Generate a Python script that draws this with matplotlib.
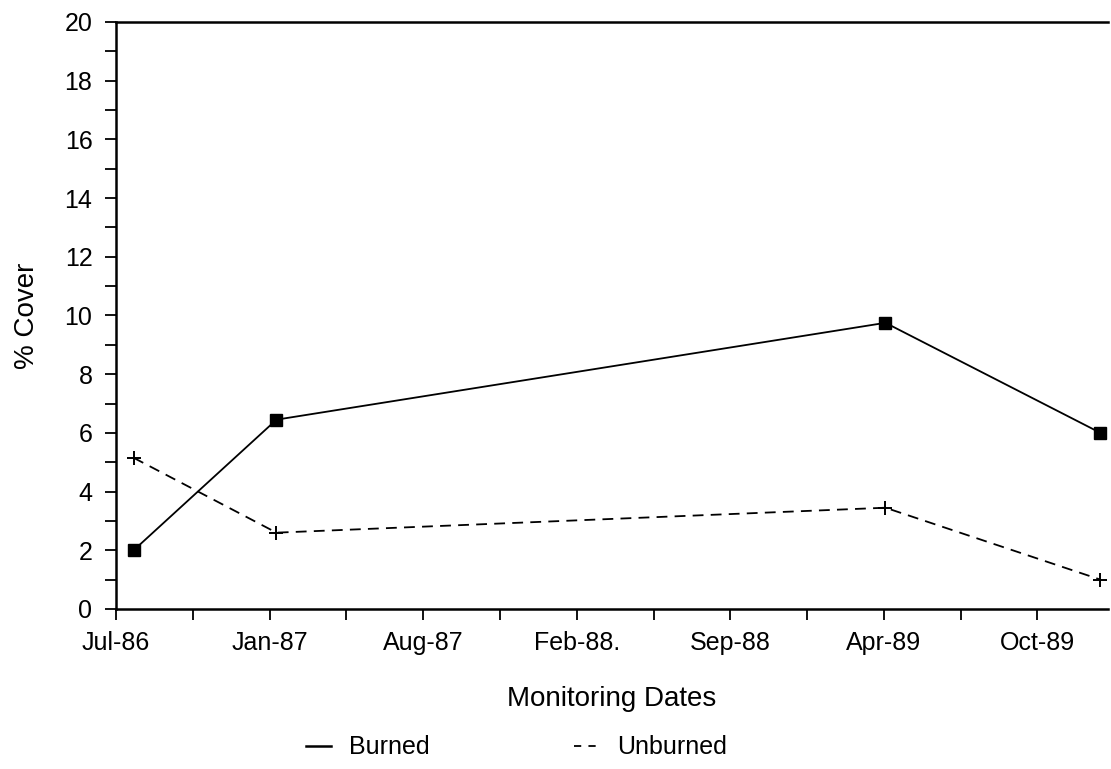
import datetime as dt
import matplotlib
matplotlib.use("Agg")
import matplotlib.pyplot as plt
import matplotlib.dates as mdates
from matplotlib.lines import Line2D

plt.rcParams['font.family'] = ['Liberation Sans', 'DejaVu Sans']

# monitoring dates and % cover
dates = [dt.date(1986, 7, 30), dt.date(1987, 2, 1), dt.date(1989, 4, 4), dt.date(1990, 1, 9)]
burned = [2.0, 6.45, 9.75, 6.0]
unburned = [5.15, 2.6, 3.45, 1.0]

tick_labels = ['Jul-86', 'Jan-87', 'Aug-87', 'Feb-88.', 'Sep-88', 'Apr-89', 'Oct-89']
axis_start = dt.date(1986, 7, 7)
tick_step = 200   # days between labelled ticks (Excel date axis)
axis_days = 1292

fig = plt.figure(figsize=(11.11, 7.69), dpi=100)
ax = fig.add_axes([0.1044, 0.2081, 0.893, 0.7633])

x = mdates.date2num(dates)
ax.plot(x, burned, '-', color='black', lw=1.3, marker='s', markersize=8)
ax.plot(x, unburned, '--', color='black', lw=1.3, dashes=(6, 4), marker='+',
        markersize=10, markeredgewidth=1.4)

x0 = mdates.date2num(axis_start)
ax.set_xlim(x0, x0 + axis_days)
ax.set_ylim(0, 20)

major = [x0 + tick_step * k for k in range(len(tick_labels))]
minor = [m + tick_step / 2 for m in major if m + tick_step / 2 < x0 + axis_days]
ax.set_xticks(major)
ax.set_xticklabels(tick_labels)
ax.set_xticks(minor, minor=True)
ax.set_yticks(range(0, 21, 2))
ax.set_yticks(range(1, 20, 2), minor=True)

ax.tick_params(axis='both', which='both', direction='out', length=8, width=1.3,
               colors='black', labelsize=18)
ax.tick_params(axis='x', pad=8)
ax.tick_params(axis='y', pad=9)

for s in ['left', 'bottom', 'top']:
    ax.spines[s].set_linewidth(1.8)
ax.spines['right'].set_visible(False)

ax.set_xlabel('Monitoring Dates', fontsize=20, labelpad=22)
ax.set_ylabel('% Cover', fontsize=20, labelpad=18)

handles = [Line2D([], [], color='black', lw=1.8, ls='-'),
           Line2D([], [], color='black', lw=1.3, ls=(0, (4, 4)))]
fig.legend(handles, ['Burned', 'Unburned'], loc='center', bbox_to_anchor=(0.465, 0.028),
           ncol=2, frameon=False, fontsize=18, handlelength=1.0, handletextpad=0.7,
           columnspacing=5.8)

fig.savefig('out.png', dpi=100)
